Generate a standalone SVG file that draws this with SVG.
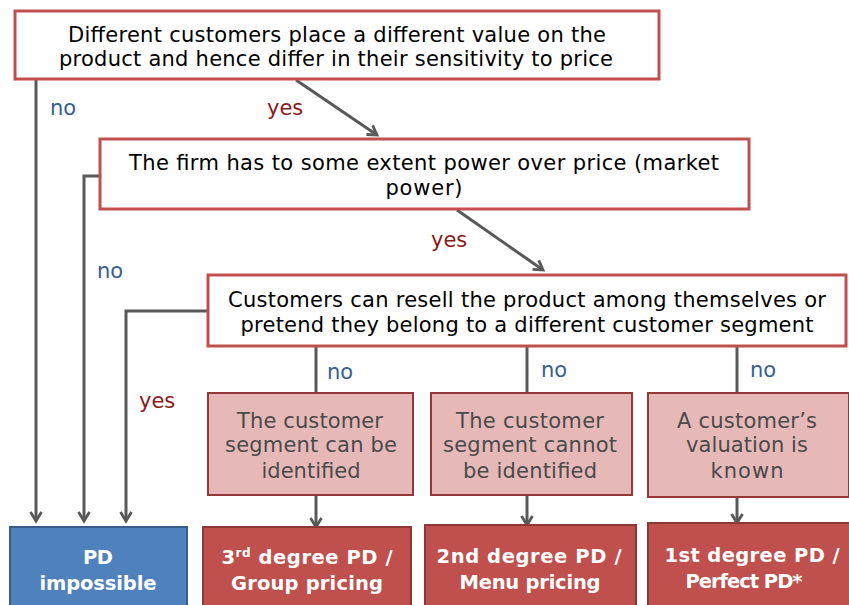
<svg xmlns="http://www.w3.org/2000/svg" width="849" height="605" viewBox="0 0 849 605">
<defs>
<marker id="arr" markerWidth="14" markerHeight="14" viewBox="0 0 14 14" refX="11" refY="7" orient="auto" markerUnits="userSpaceOnUse">
<path d="M2,1.5 L11,7 L2,12.5" fill="none" stroke="#595959" stroke-width="2.8"/>
</marker>
<style>
text{font-family:"DejaVu Sans",Verdana,sans-serif;text-anchor:middle}
.q rect{fill:#fff;stroke:#C0504D;stroke-width:3}
.q text{font-size:21px;fill:#000}
.c rect{fill:#E6B9B8;stroke:#953735;stroke-width:2}
.c text{font-size:21px;fill:#4A4A4A}
.r rect{fill:#C0504D;stroke:#8C3836;stroke-width:2}
.b rect{fill:#4F81BD;stroke:#385D8A;stroke-width:2}
.r text,.b text{font-weight:bold;font-size:19.5px;fill:#fff}
.con path{fill:none;stroke:#595959;stroke-width:3}
.con .a{marker-end:url(#arr)}
.lbl{font-size:21px;text-anchor:start}
.no{fill:#376092}
.yes{fill:#8B1A1A}
</style>
</defs>
<rect width="849" height="605" fill="#fff"/>
<g class="con">
<path class="a" d="M36,79 V521"/>
<path class="a" d="M296,80 L377,135"/>
<path class="a" d="M100,176 H84 V521"/>
<path class="a" d="M457,210 L543,270"/>
<path class="a" d="M208,311 H126 V521"/>
<path d="M316,347 V393"/>
<path d="M527,347 V393"/>
<path d="M737,347 V393"/>
<path class="a" d="M316,495 V527"/>
<path class="a" d="M527,495 V525"/>
<path class="a" d="M737,497 V523"/>
</g>
<g id="labels">
<text class="lbl no" x="50" y="115">no</text>
<text class="lbl yes" x="267" y="115">yes</text>
<text class="lbl no" x="97" y="278">no</text>
<text class="lbl yes" x="431" y="247">yes</text>
<text class="lbl yes" x="139" y="408">yes</text>
<text class="lbl no" x="327" y="379">no</text>
<text class="lbl no" x="541" y="377">no</text>
<text class="lbl no" x="750" y="377">no</text>
</g>
<g id="q1" class="q">
<rect x="15" y="11" width="644" height="68"/>
<text x="337" y="42" textLength="538">Different customers place a different value on the</text>
<text x="336" y="66" textLength="554">product and hence differ in their sensitivity to price</text>
</g>
<g id="q2" class="q">
<rect x="100" y="139" width="649" height="70"/>
<text x="424" y="170" textLength="590">The firm has to some extent power over price (market</text>
<text x="424" y="195" textLength="77">power)</text>
</g>
<g id="q3" class="q">
<rect x="208" y="275" width="638" height="71"/>
<text x="527" y="307" textLength="598">Customers can resell the product among themselves or</text>
<text x="527" y="332" textLength="573">pretend they belong to a different customer segment</text>
</g>
<g id="c1" class="c">
<rect x="208" y="393" width="205" height="102"/>
<text x="310" y="428" textLength="146">The customer</text>
<text x="311" y="452" textLength="172">segment can be</text>
<text x="311" y="478" textLength="99">identified</text>
</g>
<g id="c2" class="c">
<rect x="431" y="393" width="201" height="102"/>
<text x="530" y="428" textLength="148">The customer</text>
<text x="530" y="452" textLength="174">segment cannot</text>
<text x="530" y="478" textLength="134">be identified</text>
</g>
<g id="c3" class="c">
<rect x="648" y="393" width="201" height="104"/>
<text x="747" y="428" textLength="140">A customer’s</text>
<text x="747" y="452" textLength="122">valuation is</text>
<text x="747" y="478" textLength="73">known</text>
</g>
<g id="o0" class="b">
<rect x="10" y="527" width="177" height="80"/>
<text x="98" y="564" textLength="30">PD</text>
<text x="98" y="590" textLength="117">impossible</text>
</g>
<g id="o3" class="r">
<rect x="203" y="527" width="208" height="80"/>
<text x="307" y="564" textLength="171">3<tspan font-size="12" dy="-7">rd</tspan><tspan dy="7"> degree PD /</tspan></text>
<text x="307" y="590" textLength="152">Group pricing</text>
</g>
<g id="o2" class="r">
<rect x="425" y="525" width="211" height="82"/>
<text x="529" y="563" textLength="185">2nd degree PD /</text>
<text x="530" y="589" textLength="141">Menu pricing</text>
</g>
<g id="o1" class="r">
<rect x="648" y="523" width="203" height="84"/>
<text x="752" y="562" textLength="175">1st degree PD /</text>
<text x="744" y="588" textLength="117">Perfect PD*</text>
</g>
</svg>
